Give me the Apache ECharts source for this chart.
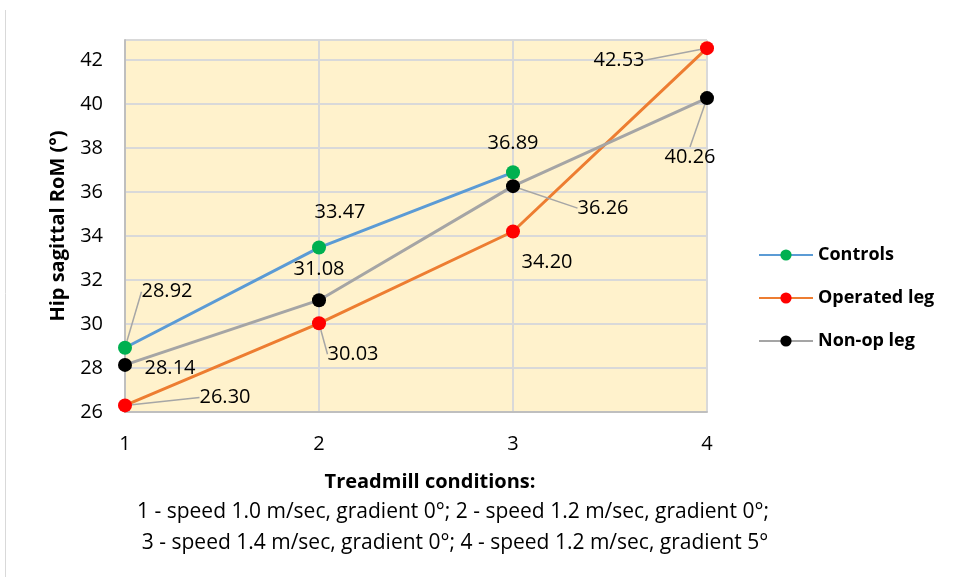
<!DOCTYPE html>
<html>
<head>
<meta charset="utf-8">
<script src="https://cdn.jsdelivr.net/npm/echarts@6/dist/echarts.min.js"></script>
<style>
  html, body { margin: 0; padding: 0; background: #fff; }
  #chart { width: 956px; height: 577px; }
</style>
</head>
<body>
<div id="chart"></div>
<script>
// treadmill conditions 1..4
var conditions = ['1', '2', '3', '4'];
var controls = [28.92, 33.47, 36.89];
var operatedLeg = [26.30, 30.03, 34.20, 42.53];
var nonOpLeg = [28.14, 31.08, 36.26, 40.26];
var seriesNames = ['Controls', 'Operated leg', 'Non-op leg'];

// label offsets (px, from the point) and whether a leader line is drawn
var labelOffsets = [
  [[42, -56], [21, -35], [0, -29]],
  [[100, -8], [34, 31], [34, 31], [-88, 12]],
  [[45, 3], [0, -31], [90, 22], [-17, 59]]
];
var leaderLines = [
  [true, false, false],
  [true, true, false, true],
  [false, false, true, true]
];

var font = '"Open Sans", "Noto Sans", sans-serif';

function buildData(values, si) {
  return values.map(function (v, i) {
    return { value: v, labelLine: { show: leaderLines[si][i] } };
  });
}

function makeSeries(name, values, si, lineColor, dotColor) {
  return {
    name: name,
    type: 'line',
    data: buildData(values, si),
    symbol: 'circle',
    symbolSize: 14,
    lineStyle: { color: lineColor, width: 3 },
    itemStyle: { color: dotColor },
    label: {
      show: true,
      position: 'inside',
      color: '#000',
      fontFamily: font,
      fontSize: 20,
      formatter: function (p) { return p.value.toFixed(2); }
    },
    labelLine: {
      show: true,
      lineStyle: { color: '#a6a6a6', width: 1.5 }
    },
    labelLayout: function (p) {
      var o = labelOffsets[si][p.dataIndex];
      return { dx: o[0], dy: o[1] };
    },
    emphasis: { disabled: true }
  };
}

var chart = echarts.init(document.getElementById('chart'));
chart.setOption({
  animation: false,
  textStyle: { fontFamily: font },
  grid: {
    left: 125, right: 249, top: 40, bottom: 165,
    show: true, backgroundColor: '#fff2cc', borderWidth: 0
  },
  xAxis: {
    type: 'category',
    data: conditions,
    boundaryGap: false,
    axisLine: { lineStyle: { color: '#bfbfbf', width: 2 } },
    axisTick: { show: false },
    axisLabel: { color: '#000', fontSize: 20, margin: 22, fontFamily: font },
    splitLine: { show: true, lineStyle: { color: '#d9d9d9', width: 2 } }
  },
  yAxis: {
    type: 'value',
    min: 26,
    max: 42.9,
    interval: 2,
    name: 'Hip sagittal RoM (°)',
    nameLocation: 'middle',
    nameGap: 57,
    nameRotate: 90,
    nameTextStyle: { color: '#000', fontSize: 20, fontWeight: 'bold', fontFamily: font },
    axisLine: { show: true, lineStyle: { color: '#bfbfbf', width: 2 } },
    axisTick: { show: false },
    axisLabel: {
      color: '#000', fontSize: 20, margin: 22, fontFamily: font,
      showMaxLabel: false
    },
    splitLine: { show: true, lineStyle: { color: '#d9d9d9', width: 2 } }
  },
  legend: {
    orient: 'vertical',
    left: 753,
    top: 241,
    itemWidth: 54,
    itemHeight: 14,
    itemGap: 25,
    textStyle: { color: '#000', fontSize: 18, fontWeight: 'bold', fontFamily: font },
    data: seriesNames
  },
  graphic: [
    {
      type: 'line',
      shape: { x1: 5.5, y1: 10, x2: 5.5, y2: 577 },
      style: { stroke: '#d9d9d9', lineWidth: 1 }
    },
    {
      type: 'text', x: 430, y: 472,
      style: {
        text: 'Treadmill conditions:', fill: '#000',
        font: 'bold 20px ' + font, align: 'center'
      }
    },
    {
      type: 'text', x: 453, y: 502,
      style: {
        text: '1 - speed 1.0 m/sec, gradient 0°; 2 - speed 1.2 m/sec, gradient 0°;',
        fill: '#000', font: '21px ' + font, align: 'center'
      }
    },
    {
      type: 'text', x: 455, y: 533,
      style: {
        text: '3 - speed 1.4 m/sec, gradient 0°; 4 - speed 1.2 m/sec, gradient 5°',
        fill: '#000', font: '21px ' + font, align: 'center'
      }
    }
  ],
  series: [
    makeSeries(seriesNames[0], controls, 0, '#5b9bd5', '#00b050'),
    makeSeries(seriesNames[1], operatedLeg, 1, '#ed7d31', '#ff0000'),
    makeSeries(seriesNames[2], nonOpLeg, 2, '#a5a5a5', '#000000')
  ]
});
</script>
</body>
</html>
